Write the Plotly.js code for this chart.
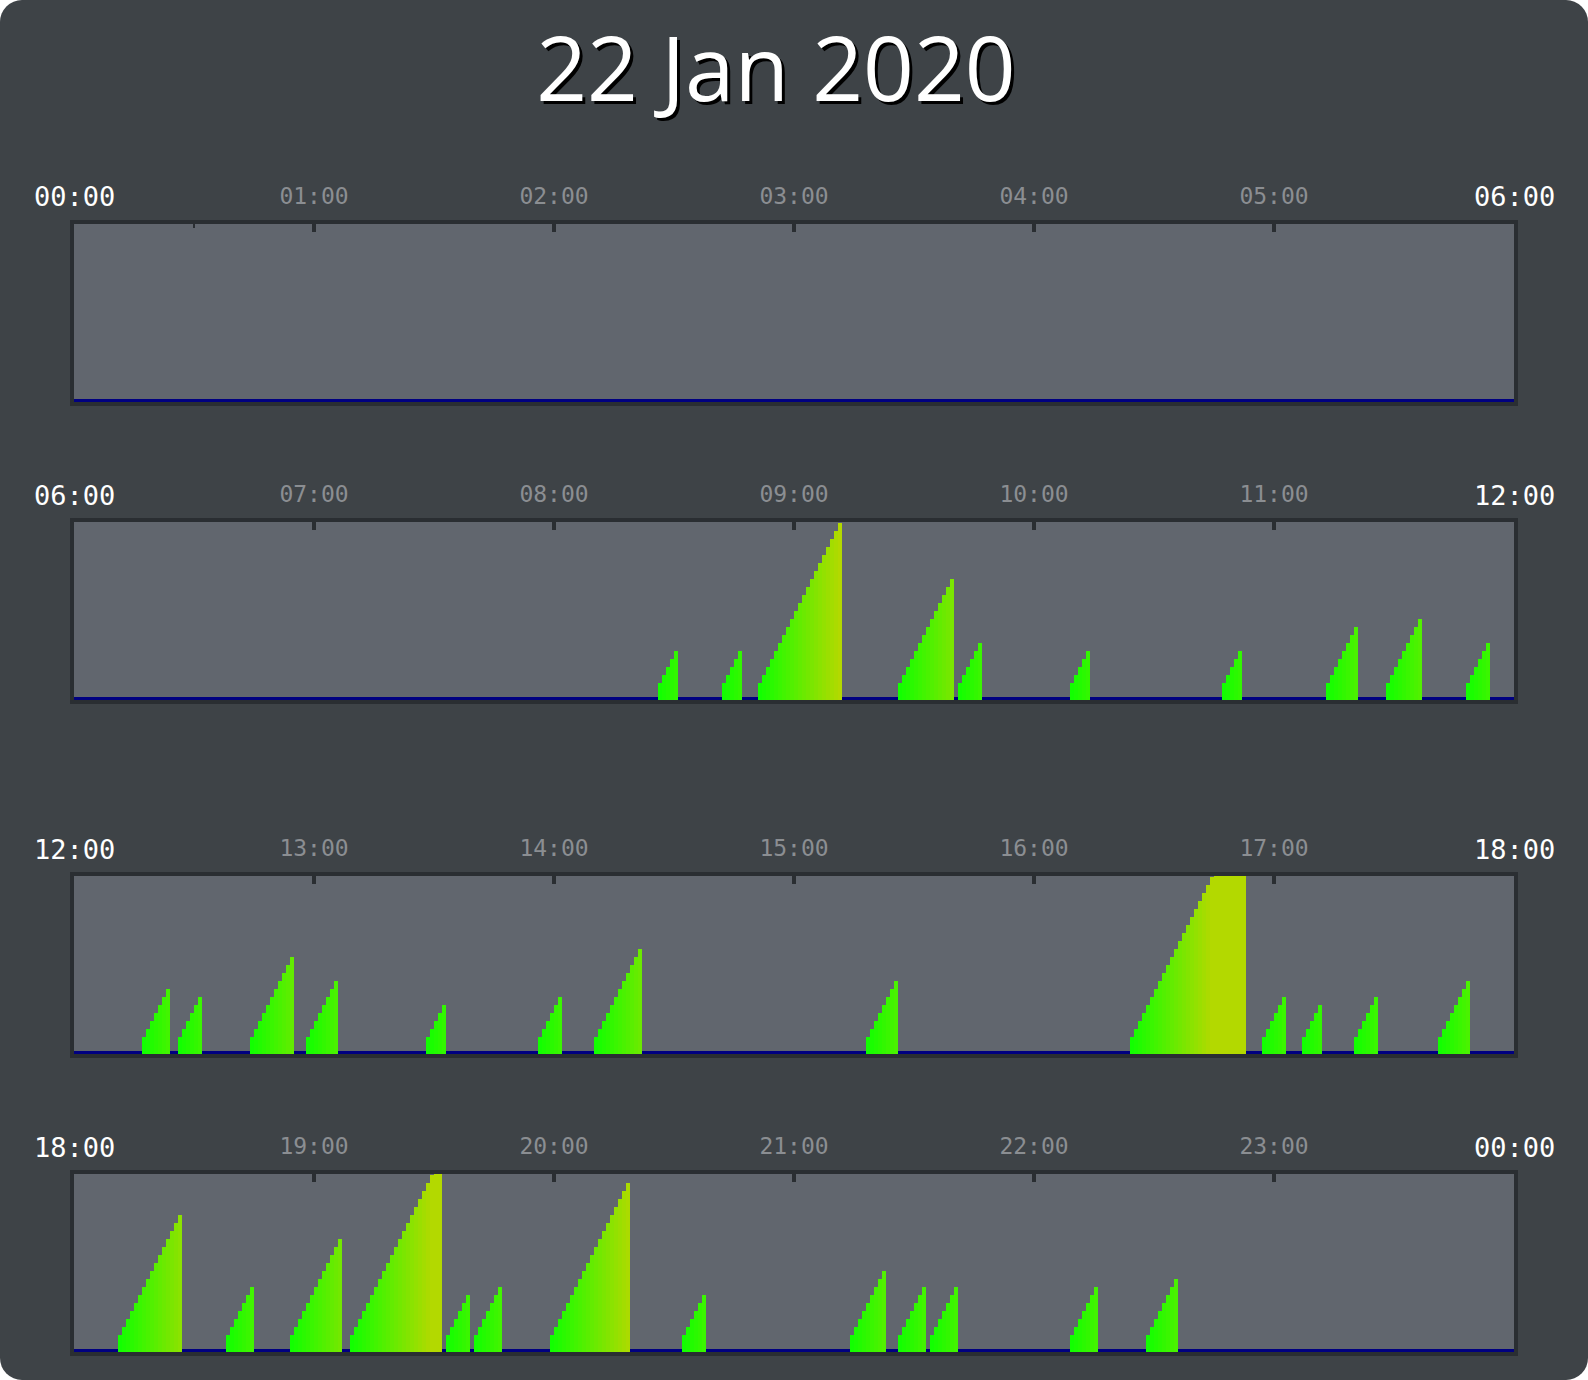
<!DOCTYPE html>
<html>
<head>
<meta charset="utf-8">
<script src="https://cdn.plot.ly/plotly-3.0.1.min.js"></script>
<style>
  html, body { margin: 0; padding: 0; background: #ffffff; }
  #card { width: 1588px; height: 1380px; background: #3e4347; border-radius: 22px; overflow: hidden; }
  #chart { width: 1588px; height: 1380px; }
</style>
</head>
<body>
<div id="card"><div id="chart"></div></div>
<script>
// ---- data ----
const chartTitle = "22 Jan 2020";
const panelStartHours = [0, 6, 12, 18];
const hourLabels = ["00:00","01:00","02:00","03:00","04:00","05:00","06:00","07:00",
                    "08:00","09:00","10:00","11:00","12:00","13:00","14:00","15:00",
                    "16:00","17:00","18:00","19:00","20:00","21:00","22:00","23:00"];

// activity sessions per 6-hour panel: start time and duration (minutes)
const sessionStarts1 = [];
const sessionMinutes1 = [];
const sessionStarts2 = ["08:26","08:42","08:51","09:26","09:41","10:09","10:47","11:13","11:28","11:48"];
const sessionMinutes2 = [5, 5, 21, 14, 6, 5, 5, 8, 9, 6];
const sessionStarts3 = ["12:17","12:26","12:44","12:58","13:28","13:56","14:10","15:18","16:24","16:57","17:07","17:20","17:41"];
const sessionMinutes3 = [7, 6, 11, 8, 5, 6, 12, 8, 29, 6, 5, 6, 8];
const sessionStarts4 = ["18:11","18:38","18:54","19:09","19:33","19:40","19:59","20:32","21:14","21:26","21:34","22:09","22:28"];
const sessionMinutes4 = [16, 7, 13, 23, 6, 7, 20, 6, 9, 7, 7, 7, 8];

const sessionStarts = [sessionStarts1, sessionStarts2, sessionStarts3, sessionStarts4];
const sessionMinutes = [sessionMinutes1, sessionMinutes2, sessionMinutes3, sessionMinutes4];

// ---- styling ----
const W = 1588, H = 1380;
const plotTopPx = [224, 522, 876, 1174];
const plotH = 178;
const yLow = -1.125, yHigh = 21.125;
const borderCol = "#2a2e32";

function toMin(s) { const p = s.split(":"); return (+p[0]) * 60 + (+p[1]); }

const traces = [];
const layout = {
  width: W, height: H,
  margin: { l: 74, r: 74, t: 0, b: 0 },
  paper_bgcolor: "rgba(0,0,0,0)",
  plot_bgcolor: "#61666e",
  showlegend: false,
  bargap: 0,
  title: {
    text: chartTitle,
    font: { family: "Open Sans", size: 89, color: "#ffffff", shadow: "3px 3px 0px #000000" },
    x: 776 / W, xref: "container", xanchor: "center",
    y: 1 - 70 / H, yref: "container", yanchor: "middle"
  },
  annotations: [],
  shapes: []
};

for (let p = 0; p < 4; p++) {
  const sfx = p === 0 ? "" : String(p + 1);
  const xa = "x" + sfx, ya = "y" + sfx;
  const base = panelStartHours[p] * 60;
  const xs = [], vs = [], ys = [];
  sessionStarts[p].forEach((st, i) => {
    const m0 = toMin(st) - base;
    for (let k = 1; k <= sessionMinutes[p][i]; k++) {
      xs.push(m0 + k - 1 + 0.5);
      vs.push(k);
      ys.push(k - yLow);
    }
  });
  traces.push({
    type: "bar", x: xs, y: ys, base: yLow, width: 1,
    xaxis: xa, yaxis: ya,
    marker: { color: vs, cmin: 1, cmax: 21, colorscale: [[0, "#12ff00"], [1, "#b3d900"]], showscale: false, line: { width: 0 } },
    hoverinfo: "skip"
  });

  const top = plotTopPx[p];
  const d0 = 1 - (top + plotH) / H, d1 = 1 - top / H;
  const tv = [60, 120, 180, 240, 300];
  layout["xaxis" + sfx] = {
    domain: [0, 1], anchor: ya, range: [0, 360], side: "top",
    tickmode: "array", tickvals: tv,
    ticktext: tv.map(v => hourLabels[(panelStartHours[p] + v / 60) % 24]),
    ticks: "inside", ticklen: 8, tickwidth: 4, tickcolor: borderCol,
    ticklabelstandoff: 7,
    tickfont: { family: "DejaVu Sans Mono", size: 23, color: "#8b8e92" },
    showline: true, mirror: true, linewidth: 4, linecolor: borderCol,
    showgrid: false, zeroline: false, fixedrange: true, automargin: false
  };
  layout["yaxis" + sfx] = {
    domain: [d0, d1], anchor: xa, range: [yLow, yHigh],
    showticklabels: false, ticks: "",
    showline: true, mirror: true, linewidth: 4, linecolor: borderCol,
    showgrid: false, zeroline: false, fixedrange: true, automargin: false
  };

  // navy baseline
  layout.shapes.push({
    type: "rect", xref: xa, yref: ya, x0: 0, x1: 360, y0: yLow, y1: yLow + 0.375,
    fillcolor: "#000080", line: { width: 0 }, layer: "below"
  });

  // white end labels
  [0, 360].forEach(v => {
    layout.annotations.push({
      xref: xa, yref: ya + " domain", x: v, y: 1, yshift: 27,
      xanchor: "center", yanchor: "middle", showarrow: false,
      text: hourLabels[(panelStartHours[p] + v / 60) % 24],
      font: { family: "DejaVu Sans Mono", size: 27, color: "#ffffff" }
    });
  });
}
// small half-hour tick in the first panel
layout.shapes.push({
  type: "line", xref: "x", yref: "y domain", x0: 30, x1: 30, y0: 1, y1: 1 - 4 / plotH,
  line: { color: borderCol, width: 2 }
});

Plotly.newPlot("chart", traces, layout, { displayModeBar: false, staticPlot: true });
</script>
</body>
</html>
